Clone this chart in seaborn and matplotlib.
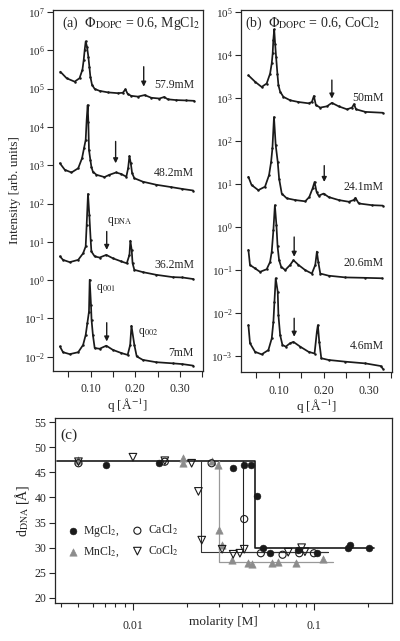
import matplotlib
matplotlib.use('Agg')
import matplotlib.pyplot as plt
from matplotlib.ticker import NullLocator, FixedLocator
import numpy as np
import seaborn as sns

# ---- panel (a): MgCl2 scattering curves (q in 1/A, log10 intensity) ----
a1_q = [0.032, 0.046, 0.064, 0.075, 0.0815, 0.0844, 0.0866, 0.0888, 0.0918, 0.0948, 0.0971, 0.0993, 0.103, 0.109,
        0.120, 0.139, 0.161, 0.172, 0.178, 0.183, 0.191, 0.206, 0.221, 0.236, 0.254, 0.265, 0.273, 0.291, 0.314, 0.332]
a1_log = [5.44, 5.27, 5.18, 5.27, 5.49, 5.75, 6.01, 6.23, 6.09, 5.83, 5.57, 5.31, 5.10, 4.99,
          4.94, 4.90, 4.88, 4.89, 4.98, 4.86, 4.81, 4.79, 4.83, 4.76, 4.74, 4.78, 4.72, 4.70, 4.69, 4.68]
a2_q = [0.031, 0.042, 0.057, 0.072, 0.0806, 0.085, 0.0888, 0.091, 0.0933, 0.0948, 0.0962, 0.0993, 0.1016, 0.105,
        0.113, 0.131, 0.142, 0.157, 0.1685, 0.180, 0.184, 0.187, 0.190, 0.193, 0.198, 0.217, 0.247, 0.280, 0.306, 0.330]
a2_log = [3.05, 2.88, 2.81, 2.92, 3.18, 3.44, 3.66, 4.18, 4.57, 4.13, 3.40, 3.14, 2.96, 2.83,
          2.75, 2.69, 2.75, 2.81, 2.77, 2.70, 2.92, 3.24, 3.05, 2.79, 2.66, 2.57, 2.49, 2.43, 2.38, 2.34]
a3_q = [0.031, 0.038, 0.053, 0.072, 0.083, 0.0888, 0.091, 0.094, 0.097, 0.100, 0.1016, 0.109, 0.120, 0.135,
        0.150, 0.1685, 0.181, 0.187, 0.189, 0.192, 0.194, 0.198, 0.217, 0.247, 0.284, 0.306, 0.330]
a3_log = [0.62, 0.53, 0.47, 0.53, 0.70, 0.88, 1.44, 2.25, 1.70, 1.05, 0.75, 0.62, 0.59, 0.66,
          0.57, 0.49, 0.44, 0.66, 1.03, 0.79, 0.44, 0.27, 0.21, 0.14, 0.08, 0.07, 0.03]
a4_q = [0.031, 0.038, 0.053, 0.072, 0.083, 0.0888, 0.0926, 0.0962, 0.0978, 0.1007, 0.102, 0.105, 0.109, 0.120,
        0.135, 0.150, 0.1685, 0.183, 0.1886, 0.1915, 0.198, 0.2033, 0.217, 0.247, 0.284, 0.306, 0.330]
a4_log = [-1.73, -1.88, -1.93, -1.88, -1.69, -1.43, -1.12, -0.82, 0.01, -0.64, -1.04, -1.43, -1.77, -1.79,
          -1.71, -1.82, -1.90, -1.95, -1.69, -1.19, -1.69, -1.99, -2.08, -2.14, -2.17, -2.19, -2.23]
a_labels = ['57.9mM', '48.2mM', '36.2mM', '7mM']
a_label_log = [5.10, 2.80, 0.40, -1.90]
a_arrow_q = [0.219, 0.156, 0.136, 0.136]
a_arrow_top = [5.57, 3.62, 1.27, -1.11]
a_arrow_bot = [5.05, 3.05, 0.79, -1.60]

# ---- panel (b): CoCl2 scattering curves ----
b1_q = [0.032, 0.047, 0.0615, 0.0727, 0.0803, 0.084, 0.0861, 0.0875, 0.0895, 0.0915, 0.0937, 0.0966, 0.0989, 0.1027,
        0.110, 0.125, 0.1436, 0.166, 0.1734, 0.1779, 0.1823, 0.192, 0.207, 0.218, 0.233, 0.2517, 0.2629, 0.2673,
        0.2718, 0.2928, 0.3315]
b1_log = [3.53, 3.38, 3.26, 3.34, 3.57, 3.81, 4.04, 4.35, 4.60, 4.27, 3.96, 3.57, 3.30, 3.15,
          3.03, 2.95, 2.91, 2.88, 2.91, 3.05, 2.84, 2.78, 2.81, 2.89, 2.81, 2.74, 2.78, 2.86,
          2.74, 2.68, 2.66]
b2_q = [0.032, 0.039, 0.054, 0.069, 0.078, 0.0826, 0.0855, 0.089, 0.0928, 0.0973, 0.1004, 0.1063, 0.1174, 0.1362,
        0.1586, 0.1676, 0.175, 0.1794, 0.1839, 0.1884, 0.1996, 0.2107, 0.2331, 0.2555, 0.2667, 0.2705, 0.2779,
        0.3076, 0.3315]
b2_log = [1.17, 0.98, 0.86, 0.94, 1.21, 1.52, 1.83, 2.56, 1.91, 1.52, 1.13, 0.78, 0.67, 0.63,
          0.60, 0.70, 0.90, 1.05, 0.82, 0.73, 0.78, 0.70, 0.63, 0.59, 0.63, 0.68, 0.55,
          0.51, 0.50]
b3_q = [0.032, 0.0355, 0.0468, 0.0579, 0.0727, 0.0803, 0.084, 0.0877, 0.091, 0.0944, 0.097, 0.1004, 0.1049, 0.1139,
        0.125, 0.1324, 0.1436, 0.1586, 0.1734, 0.181, 0.1846, 0.1877, 0.1922, 0.2107, 0.2481, 0.2928, 0.330]
b3_log = [-0.53, -0.88, -0.96, -1.04, -0.98, -0.81, -0.57, -0.07, 0.51, 0.05, -0.45, -0.77, -0.92, -1.00,
          -0.88, -0.77, -0.88, -1.00, -1.08, -0.88, -0.57, -0.81, -1.08, -1.13, -1.17, -1.18, -1.19]
b4_q = [0.032, 0.0355, 0.0468, 0.0615, 0.0765, 0.084, 0.0877, 0.090, 0.0928, 0.0973, 0.0989, 0.1027, 0.1078, 0.1152,
        0.125, 0.1324, 0.1474, 0.166, 0.1794, 0.1846, 0.1868, 0.1899, 0.1944, 0.2107, 0.2481, 0.2928, 0.3264, 0.3315]
b4_log = [-2.28, -2.70, -2.90, -2.96, -2.86, -2.59, -2.20, -1.74, -1.19, -1.50, -2.05, -2.51, -2.74, -2.78,
          -2.70, -2.67, -2.78, -2.90, -2.94, -2.43, -2.28, -2.67, -3.05, -3.09, -3.13, -3.17, -3.23, -3.29]
b_labels = ['50mM', '24.1mM', '20.6mM', '4.6mM']
b_label_log = [3.0, 0.93, -0.84, -2.77]
b_arrow_q = [0.218, 0.201, 0.134, 0.134]
b_arrow_top = [3.42, 1.43, -0.23, -2.12]
b_arrow_bot = [2.99, 1.05, -0.69, -2.55]

# ---- panel (c): d_DNA vs molarity ----
mg_x = [0.0071, 0.0140, 0.0358, 0.0412, 0.0449, 0.0482, 0.0521, 0.0572, 0.0819, 0.1035, 0.1536, 0.159, 0.201]
mg_y = [46.5, 46.8, 45.8, 46.5, 46.5, 40.2, 29.9, 28.9, 29.6, 28.9, 29.9, 30.6, 29.9]
ca_x = [0.0050, 0.0150, 0.0272, 0.0412, 0.0509, 0.0671, 0.083, 0.100]
ca_y = [46.8, 47.1, 46.8, 35.7, 28.9, 28.6, 28.9, 28.9]
mn_x = [0.0050, 0.0190, 0.0190, 0.0272, 0.0296, 0.0300, 0.0311, 0.0351, 0.0433, 0.0452, 0.0584, 0.0635, 0.0796, 0.1127]
mn_y = [47.5, 47.8, 46.8, 47.3, 46.5, 33.5, 30.6, 27.6, 27.0, 26.8, 27.0, 27.2, 27.0, 27.7]
co_x = [0.0050, 0.0100, 0.0150, 0.0211, 0.0230, 0.0240, 0.0311, 0.0358, 0.0390, 0.0412, 0.0721, 0.0855, 0.0892]
co_y = [47.1, 48.0, 47.3, 46.8, 41.2, 31.5, 29.7, 28.7, 28.9, 29.7, 29.1, 30.0, 29.2]
# step guide lines
mg_step_x = [0.0038, 0.0472, 0.0472, 0.215]
mg_step_y = [47.3, 47.3, 29.9, 29.9]
ca_step_x = [0.0404, 0.0404, 0.12]
ca_step_y = [47.3, 29.2, 29.2]
co_step_x = [0.0238, 0.0238, 0.12]
co_step_y = [47.3, 29.1, 29.1]
mn_step_x = [0.030, 0.030, 0.127]
mn_step_y = [47.3, 27.2, 27.2]

sns.set_theme(style='ticks')
plt.rcParams['font.family'] = ['Liberation Serif', 'DejaVu Serif']
plt.rcParams['mathtext.fontset'] = 'stix'
plt.rcParams['axes.linewidth'] = 0.9

fig = plt.figure(figsize=(4.0, 6.41), dpi=100)
axA = fig.add_axes([53/400, 1-371/641, 150/400, 361/641])
axB = fig.add_axes([241/400, 1-372/641, 151/400, 362/641])
axC = fig.add_axes([55/400, 1-603/641, 337/400, 185/641])


def spectra(ax, curves, labels, label_log, label_q, arrow_q, arrow_top, arrow_bot, ylim, title, title_x):
    for q, lg in curves:
        sns.lineplot(x=q, y=np.power(10.0, lg), ax=ax, color='k', lw=1.25, marker='o', markersize=1.8,
                     markeredgewidth=0, sort=False, estimator=None)
    ax.set_yscale('log')
    ax.set_xlim(0.0155, 0.352)
    ax.set_ylim(10**ylim[0], 10**ylim[1])
    ax.yaxis.set_major_locator(FixedLocator([10.0**k for k in range(int(np.ceil(ylim[0])), int(ylim[1]) + 1)]))
    ax.yaxis.set_minor_locator(NullLocator())
    ax.set_xticks([0.05, 0.10, 0.15, 0.20, 0.25, 0.30, 0.35])
    ax.set_xticklabels(['', '0.10', '', '0.20', '', '0.30', ''])
    ax.tick_params(direction='out', length=4, width=0.8, labelsize=8.5, pad=2)
    ax.tick_params(axis='x', pad=5)
    ax.tick_params(axis='y', labelsize=8)
    for lab, lg in zip(labels, label_log):
        ax.text(label_q, 10**lg, lab, ha='right', va='center', fontsize=8.5)
    for q, t, b in zip(arrow_q, arrow_top, arrow_bot):
        ax.annotate('', xy=(q, 10**b), xytext=(q, 10**t),
                    arrowprops=dict(arrowstyle='-|>', color='k', lw=1.0, mutation_scale=7, shrinkA=0, shrinkB=0))
    ax.text(title_x, 0.964, title, transform=ax.transAxes, ha='left', va='center', fontsize=10)
    ax.set_xlabel(r'q [Å$^{-1}$]', fontsize=9.5, labelpad=1)


spectra(axA, [(a1_q, a1_log), (a2_q, a2_log), (a3_q, a3_log), (a4_q, a4_log)], a_labels, a_label_log, 0.332,
        a_arrow_q, a_arrow_top, a_arrow_bot, (-2.37, 7.05), r'(a)  $\Phi_{\rm DOPC}$ = 0.6, MgCl$_2$', 0.06)
spectra(axB, [(b1_q, b1_log), (b2_q, b2_log), (b3_q, b3_log), (b4_q, b4_log)], b_labels, b_label_log, 0.334,
        b_arrow_q, b_arrow_top, b_arrow_bot, (-3.37, 5.05), r'(b)  $\Phi_{\rm DOPC}$ = 0.6, CoCl$_2$', 0.026)
axA.set_ylabel('Intensity [arb. units]', fontsize=9.5, labelpad=2)
axA.text(0.1647, 10**1.52, r'q$_{\rm DNA}$', ha='center', va='center', fontsize=8.5)
axA.text(0.111, 10**-0.23, r'q$_{001}$', ha='left', va='center', fontsize=8.5)
axA.text(0.207, 10**-1.375, r'q$_{002}$', ha='left', va='center', fontsize=8.5)

# ---- panel (c) ----
axC.plot(mg_step_x, mg_step_y, color='k', lw=1.2)
axC.plot(ca_step_x, ca_step_y, color='#222222', lw=0.8)
axC.plot(co_step_x, co_step_y, color='#333333', lw=0.8)
axC.plot(mn_step_x, mn_step_y, color='#999999', lw=0.9)
sns.scatterplot(x=mg_x, y=mg_y, ax=axC, marker='o', color='k', edgecolor='k', s=24, label=r'MgCl$_2$,', zorder=3)
sns.scatterplot(x=mn_x, y=mn_y, ax=axC, marker='^', color='#8c8c8c', edgecolor='#8c8c8c', s=28,
                label=r'MnCl$_2$,', zorder=3)
sns.scatterplot(x=ca_x, y=ca_y, ax=axC, marker='o', facecolor='none', edgecolor='k', linewidth=0.8, s=26,
                label=r'CaCl$_2$', zorder=3)
sns.scatterplot(x=co_x, y=co_y, ax=axC, marker='v', facecolor='none', edgecolor='k', linewidth=0.8, s=30,
                label=r'CoCl$_2$', zorder=3)
axC.set_xscale('log')
axC.set_xlim(0.00371, 0.27)
axC.set_ylim(19.0, 55.8)
axC.set_yticks([20, 25, 30, 35, 40, 45, 50, 55])
axC.set_xticks([0.01, 0.1])
axC.set_xticklabels(['0.01', '0.1'])
axC.tick_params(direction='out', length=4, width=0.8, labelsize=8.5, pad=2)
axC.tick_params(axis='x', which='major', length=5, pad=7)
axC.tick_params(axis='x', which='minor', direction='out', length=3, width=0.8)
axC.set_ylabel(r'd$_{\rm DNA}$ [Å]', fontsize=10, labelpad=3)
axC.set_xlabel('molarity [M]', fontsize=9.5)
axC.xaxis.set_label_coords(0.5, -0.10)
axC.xaxis.label.set_va('center')
axC.text(0.015, 0.908, '(c)', transform=axC.transAxes, ha='left', va='center', fontsize=11)
axC.legend(ncol=2, loc='center left', bbox_to_anchor=(0.0, 0.335), frameon=False, fontsize=8.5,
           handletextpad=0.3, columnspacing=0.9, handlelength=1.2, labelspacing=0.5)

fig.savefig('out.png', dpi=100)
